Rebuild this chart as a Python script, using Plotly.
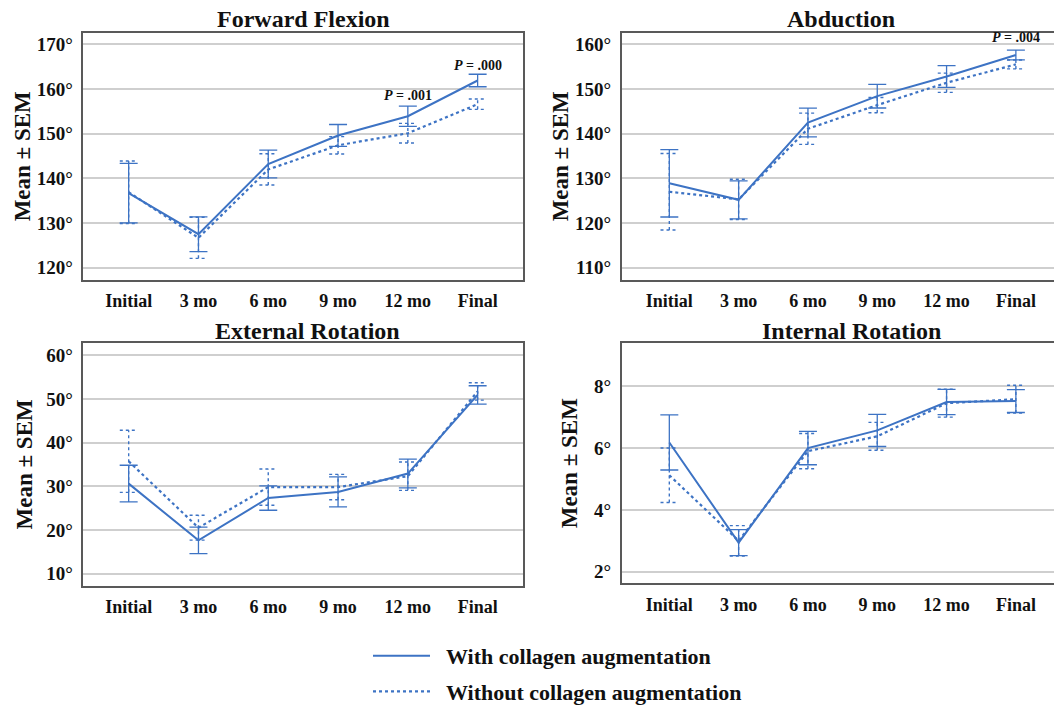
import plotly.graph_objects as go

# Follow-up time points
categories = ["Initial", "3 mo", "6 mo", "9 mo", "12 mo", "Final"]

# Forward flexion (degrees): mean and SEM
ff_with = [136.7, 127.5, 143.2, 149.6, 153.9, 161.9]
ff_with_sem = [6.65, 3.9, 3.1, 2.45, 2.25, 1.4]
ff_without = [136.9, 126.7, 142.0, 147.4, 150.1, 156.6]
ff_without_sem = [7.0, 4.6, 3.5, 1.95, 2.2, 1.15]

# Abduction (degrees)
ab_with = [128.9, 125.2, 142.5, 148.4, 152.8, 157.6]
ab_with_sem = [7.55, 4.25, 3.2, 2.65, 2.45, 1.1]
ab_without = [127.0, 125.3, 141.1, 146.4, 151.4, 155.5]
ab_without_sem = [8.55, 4.5, 3.5, 1.7, 2.15, 1.0]

# External rotation (degrees)
er_with = [30.6, 17.6, 27.3, 28.7, 32.9, 50.9]
er_with_sem = [4.2, 3.05, 2.8, 3.45, 3.3, 2.1]
er_without = [35.7, 20.5, 29.8, 29.8, 32.3, 51.7]
er_without_sem = [7.1, 2.85, 4.15, 2.9, 3.25, 2.0]

# Internal rotation (vertebral level score)
ir_with = [6.18, 2.94, 6.0, 6.57, 7.49, 7.52]
ir_with_sem = [0.89, 0.42, 0.54, 0.52, 0.41, 0.37]
ir_without = [5.12, 3.0, 5.9, 6.38, 7.45, 7.58]
ir_without_sem = [0.88, 0.49, 0.57, 0.45, 0.45, 0.45]

# Significance labels: (panel index, time point index, y position, text)
p_labels = [
    (0, 4, 158.6, "<i>P</i> = .001"),
    (0, 5, 165.3, "<i>P</i> = .000"),
    (1, 5, 161.5, "<i>P</i> = .004"),
]

titles = ["Forward Flexion", "Abduction", "External Rotation", "Internal Rotation"]
FONT = "Liberation Serif"
BLUE = "#3d73c4"
W_PX, H_PX = 1054, 713

panels = [
    dict(w=ff_with, ws=ff_with_sem, wo=ff_without, wos=ff_without_sem,
         yr=[117.3, 172.6], ticks=[120, 130, 140, 150, 160, 170],
         px=(83.3, 523.0), py=(33.3, 285.0), xr=[-0.65, 5.65], right=False,
         title_x=303, title_y=19, standoff=0),
    dict(w=ab_with, ws=ab_with_sem, wo=ab_without, wos=ab_without_sem,
         yr=[107.3, 162.6], ticks=[110, 120, 130, 140, 150, 160],
         px=(621.7, 1054.0), py=(33.3, 285.0), xr=[-0.687, 5.55], right=True,
         title_x=841, title_y=19, standoff=0),
    dict(w=er_with, ws=er_with_sem, wo=er_without, wos=er_without_sem,
         yr=[7.2, 62.8], ticks=[10, 20, 30, 40, 50, 60],
         px=(83.3, 523.0), py=(349.3, 596.7), xr=[-0.65, 5.65], right=False,
         title_x=307, title_y=337, standoff=7),
    dict(w=ir_with, ws=ir_with_sem, wo=ir_without, wos=ir_without_sem,
         yr=[1.62, 9.40], ticks=[2, 4, 6, 8],
         px=(621.7, 1054.0), py=(349.3, 594.3), xr=[-0.687, 5.55], right=True,
         title_x=851, title_y=337, standoff=10),
]

xs = list(range(len(categories)))
CAP = 0.127


def dotted_error_path(means, sems):
    """Vertical whiskers plus caps for mean +/- SEM, as one broken line."""
    px, py = [], []
    for i, (m, s) in enumerate(zip(means, sems)):
        lo, hi = m - s, m + s
        px += [i, i, None, i - CAP, i + CAP, None, i - CAP, i + CAP, None]
        py += [lo, hi, None, hi, hi, None, lo, lo, None]
    return px, py


fig = go.Figure()
layout = {}
annotations = []

for k, p in enumerate(panels):
    n = "" if k == 0 else str(k + 1)
    xa, ya = "x" + n, "y" + n
    # solid series with its SEM bars
    fig.add_trace(go.Scatter(
        x=xs, y=p["w"], xaxis=xa, yaxis=ya, mode="lines",
        line=dict(color=BLUE, width=2),
        error_y=dict(type="data", array=p["ws"], visible=True,
                     color=BLUE, thickness=1.3, width=9),
        name="\u00a0\u00a0With collagen augmentation", legendgroup="a",
        showlegend=(k == 0)))
    # dotted series and its dotted SEM bars
    ex, ey = dotted_error_path(p["wo"], p["wos"])
    fig.add_trace(go.Scatter(
        x=ex, y=ey, xaxis=xa, yaxis=ya, mode="lines",
        line=dict(color=BLUE, width=1.4, dash="dot"),
        showlegend=False, hoverinfo="skip"))
    fig.add_trace(go.Scatter(
        x=xs, y=p["wo"], xaxis=xa, yaxis=ya, mode="lines",
        line=dict(color=BLUE, width=2.2, dash="dot"),
        name="\u00a0\u00a0Without collagen augmentation", legendgroup="b",
        showlegend=(k == 0)))

    x0, x1 = p["px"][0] / W_PX, p["px"][1] / W_PX
    y0, y1 = 1 - p["py"][1] / H_PX, 1 - p["py"][0] / H_PX
    layout["xaxis" + n] = dict(
        domain=[x0, x1], range=p["xr"], anchor=ya,
        tickvals=xs, ticktext=categories, showgrid=False, zeroline=False,
        showline=True, linecolor="#595959", linewidth=1.5, mirror=True,
        ticks="", ticklabelstandoff=4,
        tickfont=dict(family=FONT, size=18, color="#111", weight="bold"))
    layout["yaxis" + n] = dict(
        domain=[y0, y1], range=p["yr"], anchor=xa,
        tickvals=p["ticks"], ticktext=[f"{v}°" for v in p["ticks"]],
        showgrid=True, gridcolor="#cfcfcf", gridwidth=1.5, zeroline=False,
        showline=True, linecolor="#595959", linewidth=1.5,
        mirror=not p["right"], ticks="", ticklabelstandoff=5,
        tickfont=dict(family=FONT, size=19, color="#111", weight="bold"),
        title=dict(text="Mean ± SEM", standoff=p["standoff"],
                   font=dict(family=FONT, size=23, color="#111", weight="bold")))
    annotations.append(dict(
        text=titles[k], x=p["title_x"] / W_PX, y=1 - p["title_y"] / H_PX,
        xref="paper", yref="paper", showarrow=False,
        xanchor="center", yanchor="middle",
        font=dict(family=FONT, size=24, color="#111", weight="bold")))

for k, ci, yv, txt in p_labels:
    n = "" if k == 0 else str(k + 1)
    annotations.append(dict(
        text=txt, x=ci, y=yv, xref="x" + n, yref="y" + n, showarrow=False,
        xanchor="center", yanchor="middle",
        font=dict(family=FONT, size=14, color="#111", weight="bold")))

fig.update_layout(
    **layout,
    annotations=annotations,
    width=W_PX, height=H_PX,
    margin=dict(l=0, r=0, t=0, b=0),
    paper_bgcolor="white", plot_bgcolor="white",
    font=dict(family=FONT, color="#111"),
    legend=dict(
        x=368 / W_PX, y=1 - 647 / H_PX, xanchor="left", yanchor="top",
        itemwidth=57, traceorder="grouped", tracegroupgap=4,
        font=dict(family=FONT, size=22, color="#111", weight="bold"),
        bgcolor="rgba(0,0,0,0)"),
    showlegend=True,
)

fig.write_html("out.html")
